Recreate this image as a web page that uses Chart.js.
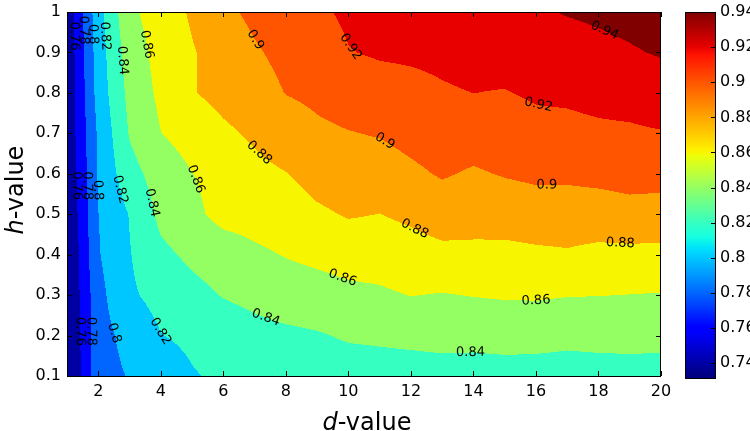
<!DOCTYPE html>
<html>
<head>
<meta charset="utf-8">
<title>h-value / d-value contour</title>
<script src="https://cdn.jsdelivr.net/npm/chart.js"></script>
<style>
  html, body { margin: 0; padding: 0; background: #fff; }
  #wrap { width: 750px; height: 431px; }
</style>
</head>
<body>
<div id="wrap"><canvas id="contourChart" width="750" height="431"></canvas></div>
<script>
// grid axes
var dValues = [1, 2, 3, 4, 5, 6, 7, 8, 9, 10, 11, 12, 13, 14, 15, 16, 17, 18, 19, 20];
var hValues = [0.1, 0.2, 0.3, 0.4, 0.5, 0.6, 0.7, 0.8, 0.9, 1.0];

// measured value at each (d, h), one array per h row
var row_h01 = [0.733, 0.793, 0.801, 0.809, 0.8185, 0.8235, 0.827, 0.829, 0.830, 0.831, 0.832, 0.832, 0.833, 0.833, 0.834, 0.834, 0.834, 0.834, 0.834, 0.834];
var row_h02 = [0.736, 0.793, 0.806, 0.8195, 0.824, 0.829, 0.834, 0.8365, 0.8385, 0.842, 0.843, 0.8445, 0.8455, 0.845, 0.8455, 0.845, 0.8435, 0.8445, 0.845, 0.8445];
var row_h03 = [0.737, 0.794, 0.817, 0.8265, 0.834, 0.841, 0.845, 0.849, 0.851, 0.855, 0.857, 0.8605, 0.859, 0.8607, 0.862, 0.8624, 0.8608, 0.8604, 0.8597, 0.859];
var row_h04 = [0.7366, 0.7985, 0.819, 0.8355, 0.844, 0.850, 0.8565, 0.861, 0.865, 0.8685, 0.869, 0.872, 0.875, 0.8756, 0.875, 0.8765, 0.8778, 0.875, 0.875, 0.875];
var row_h05 = [0.7397, 0.7998, 0.8208, 0.845, 0.8555, 0.866, 0.8675, 0.870, 0.877, 0.8815, 0.8798, 0.8837, 0.8895, 0.8873, 0.8884, 0.8908, 0.8912, 0.8911, 0.8935, 0.8923];
var row_h06 = [0.7419, 0.802, 0.833, 0.849, 0.8597, 0.8664, 0.875, 0.8795, 0.887, 0.8904, 0.8905, 0.8963, 0.9018, 0.8978, 0.9013, 0.9036, 0.9033, 0.9051, 0.9069, 0.9068];
var row_h07 = [0.7441, 0.803, 0.8415, 0.8597, 0.8678, 0.8765, 0.883, 0.890, 0.8965, 0.8992, 0.9013, 0.906, 0.9099, 0.9093, 0.9102, 0.9135, 0.914, 0.9162, 0.9171, 0.9189];
var row_h08 = [0.7431, 0.808, 0.8457, 0.8643, 0.8788, 0.886, 0.892, 0.9005, 0.904, 0.9087, 0.9122, 0.9144, 0.918, 0.9201, 0.9191, 0.9226, 0.9238, 0.9262, 0.9277, 0.9314];
var row_h09 = [0.7443, 0.810, 0.8498, 0.867, 0.8785, 0.889, 0.898, 0.905, 0.9105, 0.9193, 0.922, 0.923, 0.9243, 0.9268, 0.9276, 0.9303, 0.9325, 0.9355, 0.9385, 0.9414];
var row_h10 = [0.7456, 0.8125, 0.856, 0.869, 0.8826, 0.896, 0.904, 0.910, 0.917, 0.923, 0.925, 0.927, 0.930, 0.933, 0.936, 0.938, 0.941, 0.943, 0.945, 0.946];
var grid = [row_h01, row_h02, row_h03, row_h04, row_h05, row_h06, row_h07, row_h08, row_h09, row_h10];

// contour levels and colour bar
var levels = [0.76, 0.78, 0.80, 0.82, 0.84, 0.86, 0.88, 0.90, 0.92, 0.94];
var cbMin = 0.7327, cbMax = 0.94;

// tick labels
var xTicks = [2, 4, 6, 8, 10, 12, 14, 16, 18, 20];
var yTicks = [0.1, 0.2, 0.3, 0.4, 0.5, 0.6, 0.7, 0.8, 0.9, 1.0];
var cbTicks = [0.74, 0.76, 0.78, 0.80, 0.82, 0.84, 0.86, 0.88, 0.90, 0.92, 0.94];

// where the inline contour labels sit: level, d, h (snapped onto the contour)
var labelLevels = [0.76, 0.78, 0.80, 0.82, 0.84, 0.86, 0.90, 0.92, 0.94, 0.92, 0.90, 0.90, 0.88, 0.88, 0.88, 0.86, 0.86, 0.86, 0.84, 0.84, 0.84, 0.82, 0.82, 0.80, 0.80, 0.78, 0.76, 0.78, 0.76];
var labelD      = [1.18, 1.45, 1.75, 2.15, 2.75, 3.6, 7.0, 10.0, 18.2, 16.1, 11.2, 16.35, 6.83, 12.1, 18.7, 5.07, 9.8, 16.0, 3.56, 7.3, 13.9, 2.67, 3.98, 2.03, 2.47, 1.54, 1.22, 1.8, 1.42];
var labelH      = [0.94, 0.955, 0.945, 0.94, 0.88, 0.92, 0.93, 0.91, 0.955, 0.78, 0.685, 0.56, 0.63, 0.46, 0.43, 0.585, 0.34, 0.29, 0.525, 0.23, 0.167, 0.56, 0.21, 0.56, 0.205, 0.57, 0.57, 0.21, 0.21];

// colour map position of each level (jet), the bar is stretched the same way
var cmapAt = [0.03, 0.12, 0.225, 0.32, 0.415, 0.53, 0.65, 0.735, 0.82, 0.91, 1.0];

// matplotlib "jet"
var jetR = [[0, 0], [0.35, 0], [0.66, 1], [0.89, 1], [1, 0.5]];
var jetG = [[0, 0], [0.125, 0], [0.375, 1], [0.64, 1], [0.91, 0], [1, 0]];
var jetB = [[0, 0.5], [0.11, 1], [0.34, 1], [0.65, 0], [1, 0]];
function seg(t, pts) {
  for (var i = 1; i < pts.length; i++) {
    if (t <= pts[i][0]) {
      var a = pts[i - 1], b = pts[i];
      return a[1] + (b[1] - a[1]) * (t - a[0]) / (b[0] - a[0]);
    }
  }
  return pts[pts.length - 1][1];
}
var cbStops = [cbMin].concat(levels);
function toT(v) {
  if (v <= cbStops[0]) return 0;
  if (v <= cbStops[1]) return cmapAt[1] * (v - cbStops[0]) / (cbStops[1] - cbStops[0]);
  for (var i = 2; i < cbStops.length; i++) {
    if (v <= cbStops[i]) return cmapAt[i - 1] + (cmapAt[i] - cmapAt[i - 1]) * (v - cbStops[i - 1]) / (cbStops[i] - cbStops[i - 1]);
  }
  return 1;
}
function jetT(t) {
  return [Math.round(255 * seg(t, jetR)), Math.round(255 * seg(t, jetG)), Math.round(255 * seg(t, jetB))];
}
var bandColors = cmapAt.map(jetT);

function findCell(arr, v) {
  var i = 0;
  while (i < arr.length - 2 && v > arr[i + 1]) i++;
  var f = (v - arr[i]) / (arr[i + 1] - arr[i]);
  return [i, Math.max(0, Math.min(1, f))];
}
function field(d, h) {
  var cx = findCell(dValues, d), cy = findCell(hValues, h);
  var i = cx[0], fx = cx[1], j = cy[0], fy = cy[1];
  var a = grid[j][i], b = grid[j][i + 1], c = grid[j + 1][i], e = grid[j + 1][i + 1];
  return (a * (1 - fx) + b * fx) * (1 - fy) + (c * (1 - fx) + e * fx) * fy;
}
function bandOf(v) {
  var k = 0;
  while (k < levels.length && v >= levels[k]) k++;
  return k;
}
function fmt(v) { return String(parseFloat(v.toFixed(2))); }

var points = [];
grid.forEach(function (row, j) {
  row.forEach(function (v, i) { points.push({ x: dValues[i], y: hValues[j], v: v }); });
});

var contourPlugin = {
  id: 'contourFill',
  beforeDatasetsDraw: function (chart) {
    var ctx = chart.ctx, area = chart.chartArea;
    var xs = chart.scales.x, ys = chart.scales.y;
    var w = Math.round(area.right - area.left), hgt = Math.round(area.bottom - area.top);
    var off = document.createElement('canvas');
    off.width = w; off.height = hgt;
    var octx = off.getContext('2d');
    var img = octx.createImageData(w, hgt);
    for (var py = 0; py < hgt; py++) {
      var h = ys.getValueForPixel(area.top + py + 0.5);
      for (var px = 0; px < w; px++) {
        var d = xs.getValueForPixel(area.left + px + 0.5);
        var col = bandColors[bandOf(field(d, h))];
        var p = (py * w + px) * 4;
        img.data[p] = col[0]; img.data[p + 1] = col[1]; img.data[p + 2] = col[2]; img.data[p + 3] = 255;
      }
    }
    octx.putImageData(img, 0, 0);
    ctx.drawImage(off, area.left, area.top);
  },
  afterDraw: function (chart) {
    var ctx = chart.ctx, area = chart.chartArea;
    var xs = chart.scales.x, ys = chart.scales.y, cb = chart.scales.cb;

    // contour labels
    function fpx(px, py) {
      px = Math.max(area.left, Math.min(area.right, px));
      py = Math.max(area.top, Math.min(area.bottom, py));
      return field(xs.getValueForPixel(px), ys.getValueForPixel(py));
    }
    ctx.save();
    ctx.fillStyle = '#000';
    ctx.font = '13px "DejaVu Sans"';
    ctx.textAlign = 'center';
    ctx.textBaseline = 'middle';
    for (var n = 0; n < labelLevels.length; n++) {
      var lev = labelLevels[n];
      var px = xs.getPixelForValue(labelD[n]), py = ys.getPixelForValue(labelH[n]);
      for (var it = 0; it < 12; it++) {
        var f = fpx(px, py) - lev;
        var gx = (fpx(px + 1, py) - fpx(px - 1, py)) / 2;
        var gy = (fpx(px, py + 1) - fpx(px, py - 1)) / 2;
        var g2 = gx * gx + gy * gy;
        if (g2 < 1e-14 || Math.abs(f) < 1e-6) break;
        var dx = -f * gx / g2, dy = -f * gy / g2;
        var len = Math.sqrt(dx * dx + dy * dy);
        if (len > 10) { dx *= 10 / len; dy *= 10 / len; }
        px += dx; py += dy;
      }
      var sx = (fpx(px + 5, py) - fpx(px - 5, py));
      var sy = (fpx(px, py + 5) - fpx(px, py - 5));
      var ang = Math.atan2(sx, -sy);
      if (ang > Math.PI / 2) ang -= Math.PI;
      if (ang <= -Math.PI / 2) ang += Math.PI;
      ctx.save();
      ctx.translate(px, py);
      ctx.rotate(ang);
      ctx.fillText(fmt(lev), 0, 0);
      ctx.restore();
    }
    ctx.restore();

    // frame and inward ticks
    ctx.save();
    ctx.strokeStyle = '#000';
    ctx.lineWidth = 1;
    ctx.strokeRect(area.left + 0.5, area.top + 0.5, area.right - area.left - 1, area.bottom - area.top);
    ctx.beginPath();
    xTicks.forEach(function (t) {
      var x = Math.round(xs.getPixelForValue(t)) + 0.5;
      ctx.moveTo(x, area.bottom); ctx.lineTo(x, area.bottom - 5);
      ctx.moveTo(x, area.top); ctx.lineTo(x, area.top + 5);
    });
    yTicks.forEach(function (t) {
      var y = Math.round(ys.getPixelForValue(t)) + 0.5;
      ctx.moveTo(area.left, y); ctx.lineTo(area.left + 5, y);
      ctx.moveTo(area.right, y); ctx.lineTo(area.right - 5, y);
    });
    ctx.stroke();

    // colour bar
    var cbL = 685, cbW = 31;
    for (var y = Math.floor(cb.top); y < Math.ceil(cb.bottom) + 3; y++) {
      var c = jetT(toT(cb.getValueForPixel(y + 0.5)));
      ctx.fillStyle = 'rgb(' + c[0] + ',' + c[1] + ',' + c[2] + ')';
      ctx.fillRect(cbL, y, cbW, 1);
    }
    ctx.strokeRect(cbL + 0.5, cb.top + 0.5, cbW - 1, cb.bottom - cb.top + 2);
    ctx.beginPath();
    cbTicks.forEach(function (t) {
      var y = Math.round(cb.getPixelForValue(t)) + 0.5;
      ctx.moveTo(cbL + cbW, y); ctx.lineTo(cbL + cbW - 5, y);
    });
    ctx.stroke();

    // axis titles with italic variable names
    ctx.fillStyle = '#000';
    ctx.textBaseline = 'alphabetic';
    ctx.textAlign = 'left';
    function mixed(x0, y0, it, rest) {
      ctx.font = 'italic 24px "DejaVu Sans"';
      var w1 = ctx.measureText(it).width;
      ctx.font = '24px "DejaVu Sans"';
      var w2 = ctx.measureText(rest).width;
      var s = x0 - (w1 + w2) / 2;
      ctx.font = 'italic 24px "DejaVu Sans"';
      ctx.fillText(it, s, y0);
      ctx.font = '24px "DejaVu Sans"';
      ctx.fillText(rest, s + w1, y0);
    }
    mixed((area.left + area.right) / 2 + 3, 430, 'd', '-value');
    ctx.save();
    ctx.translate(23, (area.top + area.bottom) / 2 - 4);
    ctx.rotate(-Math.PI / 2);
    mixed(0, 0, 'h', '-value');
    ctx.restore();
    ctx.restore();
  }
};

function noOverhang(s) { s.paddingTop = 0; s.paddingBottom = 0; s.paddingLeft = 0; s.paddingRight = 0; }

Chart.defaults.font.family = '"DejaVu Sans"';
Chart.defaults.color = '#000';

var ctx = document.getElementById('contourChart').getContext('2d');
var contourChart = new Chart(ctx, {
  type: 'scatter',
  data: {
    datasets: [{ data: points, pointRadius: 0, pointHoverRadius: 0, showLine: false }]
  },
  options: {
    responsive: false,
    animation: false,
    events: [],
    layout: { padding: { top: 12, left: 0, right: 0, bottom: 0 } },
    plugins: { legend: { display: false }, tooltip: { enabled: false }, title: { display: false } },
    scales: {
      x: {
        type: 'linear', min: 1, max: 20,
        grid: { display: false, drawTicks: false }, border: { display: false },
        afterBuildTicks: function (s) { s.ticks = xTicks.map(function (v) { return { value: v }; }); },
        ticks: { font: { size: 16 }, padding: 6, maxRotation: 0, autoSkip: false, callback: function (v) { return fmt(v); } },
        afterFit: function (s) { s.height = 55; noOverhang(s); }
      },
      y: {
        type: 'linear', min: 0.1, max: 1,
        grid: { display: false, drawTicks: false }, border: { display: false },
        afterBuildTicks: function (s) { s.ticks = yTicks.map(function (v) { return { value: v }; }); },
        ticks: { font: { size: 16 }, padding: 6, autoSkip: false, callback: function (v) { return fmt(v); } },
        afterFit: function (s) { s.width = 67; noOverhang(s); }
      },
      cb: {
        type: 'linear', axis: 'y', position: 'right', min: cbMin, max: cbMax,
        grid: { display: false, drawTicks: false }, border: { display: false },
        afterBuildTicks: function (s) { s.ticks = cbTicks.map(function (v) { return { value: v }; }); },
        ticks: { font: { size: 16 }, padding: 59, autoSkip: false, callback: function (v) { return fmt(v); } },
        afterFit: function (s) { s.width = 89; noOverhang(s); }
      }
    }
  },
  plugins: [contourPlugin]
});
</script>
</body>
</html>
